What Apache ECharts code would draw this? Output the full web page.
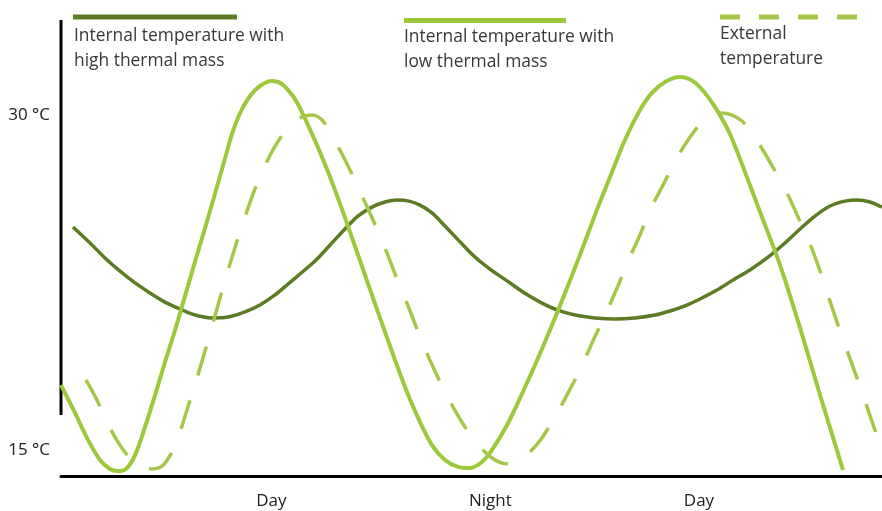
<!DOCTYPE html>
<html>
<head>
<meta charset="utf-8">
<script src="https://cdn.jsdelivr.net/npm/echarts@6/dist/echarts.min.js"></script>
<style>
html,body{margin:0;padding:0;background:#fff;}
#c{width:882px;height:511px;}
</style>
</head>
<body>
<div id="c"></div>
<script>
// x = hours (0..48), y = temperature in °C
var seriesNames = ['Internal temperature with\nhigh thermal mass', 'Internal temperature with\nlow thermal mass', 'External\ntemperature'];

var highMass = [
  [0.70,24.89],[1.70,24.17],[2.57,23.50],[3.45,22.91],[4.33,22.38],[5.20,21.93],[6.08,21.52],[6.96,21.21],
  [7.83,20.94],[8.83,20.81],[9.76,20.85],[10.76,21.08],[11.63,21.39],[12.51,21.84],[13.27,22.33],[13.97,22.78],
  [14.85,23.36],[15.73,24.08],[16.60,24.80],[17.36,25.38],[18.18,25.78],[18.94,26.01],[19.64,26.10],[20.35,26.05],
  [20.99,25.87],[21.69,25.52],[22.45,24.93],[23.33,24.22],[24.20,23.54],[25.08,23.00],[26.08,22.47],[27.01,21.97],
  [28.01,21.52],[29.00,21.17],[30.05,20.94],[31.22,20.81],[32.39,20.76],[33.56,20.81],[34.73,20.94],[35.61,21.12],
  [36.48,21.35],[37.36,21.66],[38.35,22.06],[39.29,22.51],[40.28,22.96],[41.28,23.50],[42.33,24.17],[43.21,24.80],
  [44.08,25.38],[44.96,25.83],[45.84,26.05],[46.54,26.10],[47.30,26.01],[48.00,25.78]
];

var lowMass = [
  [0,17.80],[0.82,16.55],[1.58,15.34],[2.28,14.44],[2.86,14.04],[3.33,13.95],[3.80,14.04],[4.33,14.66],
  [4.91,15.92],[5.50,17.35],[6.08,18.83],[6.67,20.27],[7.25,21.79],[7.83,23.32],[8.42,24.84],[9.00,26.37],
  [9.53,27.80],[10.00,29.06],[10.47,30.00],[11.05,30.76],[11.63,31.21],[12.34,31.43],[12.92,31.30],[13.56,30.76],
  [13.97,30.22],[14.44,29.46],[15.14,28.25],[16.02,26.55],[16.90,24.66],[17.77,22.74],[18.65,20.81],[19.53,18.92],
  [20.23,17.49],[20.99,16.14],[21.69,15.11],[22.45,14.44],[23.21,14.13],[23.91,14.08],[24.61,14.35],[25.20,14.89],
  [26.08,16.01],[26.84,17.22],[27.71,18.70],[28.59,20.27],[29.47,21.93],[30.34,23.63],[31.22,25.43],[32.10,27.13],
  [32.97,28.79],[33.85,30.13],[34.55,30.90],[35.31,31.39],[36.19,31.61],[36.95,31.43],[37.65,30.90],[38.35,30.13],
  [39.11,29.06],[39.99,27.35],[40.87,25.56],[42.04,23.18],[43.21,20.36],[44.38,17.35],[45.72,13.99]
];

var external = [
  [1.46,18.03],[2.10,17.13],[2.75,16.05],[3.33,15.25],[3.92,14.62],[4.62,14.17],[5.32,14.04],[5.91,14.17],
  [6.49,14.80],[6.96,15.69],[7.31,16.55],[7.83,17.80],[8.30,19.01],[8.71,20.09],[9.18,21.39],[9.65,22.65],
  [10.17,23.95],[10.70,25.20],[11.23,26.37],[11.81,27.44],[12.45,28.43],[13.21,29.28],[13.97,29.78],[14.67,29.91],
  [15.26,29.69],[15.84,28.97],[16.43,28.16],[17.01,27.26],[17.71,26.10],[18.42,24.89],[19.06,23.72],[19.64,22.56],
  [20.29,21.35],[20.93,20.09],[21.57,18.92],[22.28,17.76],[23.09,16.59],[23.97,15.52],[24.79,14.80],[25.49,14.39],
  [26.13,14.26],[26.72,14.39],[27.42,14.80],[28.12,15.43],[28.88,16.37],[29.64,17.44],[30.40,18.57],[31.10,19.78],
  [31.81,20.94],[32.51,22.15],[33.15,23.36],[33.85,24.53],[34.44,25.65],[35.20,26.77],[36.01,27.98],[36.78,28.92],
  [37.48,29.60],[38.12,29.91],[38.65,30.00],[39.23,29.91],[39.82,29.64],[40.28,29.24],[40.75,28.70],[41.45,27.80],
  [42.39,26.50],[43.09,25.34],[43.79,24.13],[44.38,22.91],[44.90,21.70],[45.43,20.49],[46.01,19.24],[46.60,17.98],
  [47.12,16.82],[47.59,15.78],[48.00,14.80]
];

var yTickValues = [15, 30];
var xTickValues = [12.3, 25.1, 37.3];
var xTickLabels = ['Day', 'Night', 'Day'];

var cDark = '#5d7b25', cLight = '#9cc93c', cDash = '#a6c649';
var font = '"Open Sans", "Noto Sans", sans-serif';

var chart = echarts.init(document.getElementById('c'), null, {renderer: 'canvas'});
chart.setOption({
  animation: false,
  backgroundColor: '#ffffff',
  grid: {left: 61, right: 0, top: 20, bottom: 34.5, containLabel: false},
  xAxis: {
    type: 'value', min: 0, max: 48,
    axisLine: {show: true, lineStyle: {color: '#000', width: 3}},
    axisTick: {show: false},
    splitLine: {show: false},
    axisLabel: {
      customValues: xTickValues,
      margin: 16,
      fontFamily: font, fontSize: 17, color: '#222',
      formatter: function (v) {
        for (var i = 0; i < xTickValues.length; i++) { if (Math.abs(xTickValues[i] - v) < 1e-6) return xTickLabels[i]; }
        return '';
      }
    }
  },
  yAxis: {
    type: 'value', min: 13.7, max: 34.17,
    axisLine: {show: false},
    axisTick: {show: false},
    splitLine: {show: false},
    axisLabel: {
      customValues: yTickValues,
      margin: 11,
      formatter: '{t|{value} °C}',
      rich: {t: {fontFamily: font, fontSize: 17, color: '#222', padding: [5, 0, 0, 0]}}
    }
  },
  graphic: [
    {type: 'line', shape: {x1: 61, y1: 20, x2: 61, y2: 415}, style: {stroke: '#000', lineWidth: 3}},
    {type: 'line', shape: {x1: 73, y1: 17, x2: 237, y2: 17}, style: {stroke: cDark, lineWidth: 5}},
    {type: 'text', left: 74, top: 24, style: {text: seriesNames[0], font: '17.4px ' + font, fill: '#383838', lineHeight: 25}},
    {type: 'line', shape: {x1: 404, y1: 20.5, x2: 566, y2: 20.5}, style: {stroke: cLight, lineWidth: 5}},
    {type: 'text', left: 404, top: 25, style: {text: seriesNames[1], font: '17.4px ' + font, fill: '#383838', lineHeight: 25}},
    {type: 'line', shape: {x1: 720, y1: 17, x2: 858, y2: 17}, style: {stroke: cDash, lineWidth: 5, lineDash: [20, 19]}},
    {type: 'text', left: 720, top: 22, style: {text: seriesNames[2], font: '17.4px ' + font, fill: '#383838', lineHeight: 25}}
  ],
  series: [
    {name: seriesNames[0], type: 'line', data: highMass, smooth: 0.3, showSymbol: false, silent: true,
     lineStyle: {color: cDark, width: 3.5}, z: 2},
    {name: seriesNames[1], type: 'line', data: lowMass, smooth: 0.3, showSymbol: false, silent: true,
     lineStyle: {color: cLight, width: 4}, z: 3},
    {name: seriesNames[2], type: 'line', data: external, smooth: 0.3, showSymbol: false, silent: true,
     lineStyle: {color: cDash, width: 3.5, type: [30, 26]}, z: 4}
  ]
});
</script>
</body>
</html>
